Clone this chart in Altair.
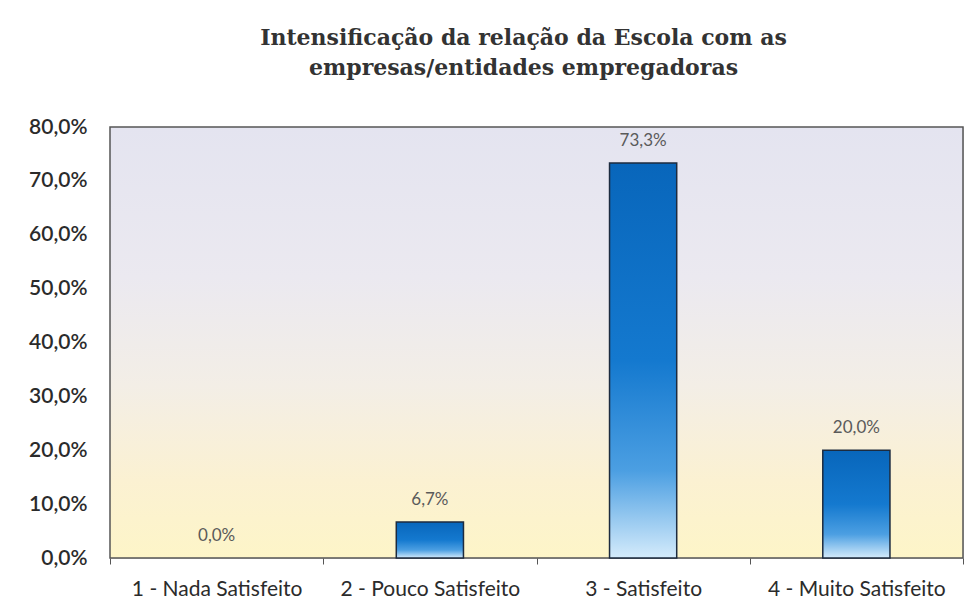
import altair as alt
import pandas as pd

categories = ["1 - Nada Satisfeito", "2 - Pouco Satisfeito", "3 - Satisfeito", "4 - Muito Satisfeito"]
values = [0.0, 0.067, 0.733, 0.20]
labels = ["0,0%", "6,7%", "73,3%", "20,0%"]
y_ticks = [0.0, 0.1, 0.2, 0.3, 0.4, 0.5, 0.6, 0.7, 0.8]
title_lines = ["Intensificação da relação da  Escola com as", "empresas/entidades empregadoras"]

df = pd.DataFrame({"cat": categories, "val": values, "lab": labels})

W, H = 853, 431

bg_grad = alt.Gradient(
    gradient="linear", x1=0, y1=0, x2=0, y2=1,
    stops=[
        alt.GradientStop(color="#e4e4f0", offset=0),
        alt.GradientStop(color="#ebe9f0", offset=0.35),
        alt.GradientStop(color="#f3eee6", offset=0.6),
        alt.GradientStop(color="#fbf1d2", offset=0.82),
        alt.GradientStop(color="#fdf5c8", offset=1),
    ],
)
bar_grad = alt.Gradient(
    gradient="linear", x1=0, y1=0, x2=0, y2=1,
    stops=[
        alt.GradientStop(color="#0866bb", offset=0),
        alt.GradientStop(color="#1479cf", offset=0.5),
        alt.GradientStop(color="#4c9fe2", offset=0.78),
        alt.GradientStop(color="#d4ebfb", offset=1),
    ],
)

xscale = alt.Scale(domain=categories, paddingInner=0, paddingOuter=0)
yscale = alt.Scale(domain=[0, 0.8], nice=False)

bg = alt.Chart(pd.DataFrame({"a": [0]})).mark_rect(
    fill=bg_grad, stroke="#555555", strokeWidth=1.5
).encode(
    x=alt.value(0), x2=alt.value(W), y=alt.value(0), y2=alt.value(H)
)

bars = alt.Chart(df).mark_bar(
    fill=bar_grad, stroke="#1c2b3f", strokeWidth=1.5,
    width=alt.RelativeBandSize(0.315)
).encode(
    x=alt.X("cat:N", scale=xscale, sort=categories, title=None,
            axis=alt.Axis(labelAngle=0, labelFont="Lato", labelFontSize=21,
                          labelColor="#2b2b2b", labelPadding=14, tickBand="extent",
                          tickSize=6, tickColor="#555555", domain=False)),
    y=alt.Y("val:Q", scale=yscale, title=None,
            axis=alt.Axis(values=y_ticks, grid=False, ticks=False, domain=False,
                          labelFont="Lato", labelFontSize=21, labelFontWeight=600,
                          labelColor="#2b2b2b", labelPadding=23,
                          labelExpr="replace(format(datum.value*100, '.1f'), '.', ',') + '%'")),
    opacity=alt.condition(alt.datum.val > 0, alt.value(1), alt.value(0)),
)

text = alt.Chart(df).mark_text(
    baseline="bottom", dy=-13, font="Lato", fontSize=17, color="#5a5a5a"
).encode(
    x=alt.X("cat:N", scale=xscale, sort=categories),
    y=alt.Y("val:Q", scale=yscale),
    text="lab:N",
)

chart = alt.layer(bg, bars, text).properties(
    width=W, height=H,
    autosize=alt.AutoSizeParams(type="none"),
    padding={"left": 102, "top": 119, "right": 9, "bottom": 43},
    title=alt.TitleParams(
        text=title_lines, font="DejaVu Serif", fontSize=22, fontWeight="bold",
        color="#333333", anchor="middle", offset=36, lineHeight=30, dx=-13,
    ),
).configure_view(stroke=None).configure(background="white")

chart.save("out.html", embed_options={"renderer": "svg", "actions": False})
